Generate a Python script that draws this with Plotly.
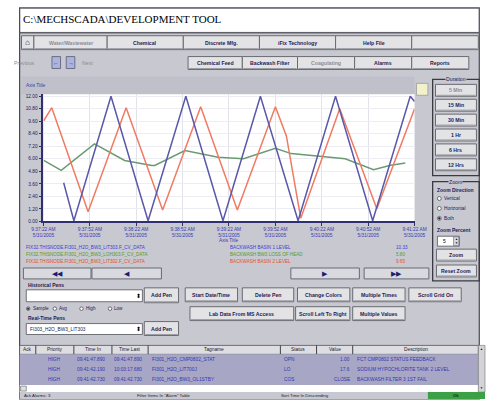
import plotly.graph_objects as go

W, H = 497, 402

# ---------------- data ----------------
x_tick_vals = [0, 30, 60, 90, 120, 150, 180, 210, 240]
x_tick_time = ["9:37:22 AM", "9:37:52 AM", "9:38:22 AM", "9:38:52 AM", "9:39:22 AM",
               "9:39:52 AM", "9:40:22 AM", "9:40:52 AM", "9:41:22 AM"]
x_tick_date = "5/31/2005"
y_tick_vals = [0, 1.2, 2.4, 3.6, 4.8, 6.0, 7.2, 8.4, 9.6, 10.8, 12.0]
y_tick_text = ["0.00", "1.20", "2.40", "3.60", "4.80", "6.00", "7.20", "8.40", "9.60", "10.80", "12.00"]

blue_x = [13.1, 19.7, 43.7, 67.7, 92.1, 116.1, 140.3, 164.7, 188.9, 212.9, 237.2, 240.0]
blue_y = [3.70, 0.05, 12.0, 0.05, 12.0, 0.05, 12.0, 0.05, 12.0, 0.05, 12.0, 11.5]
red_x = [0.2, 5.4, 28.9, 53.5, 77.1, 101.7, 125.4, 150.0, 157.1, 166.4, 191.6, 215.6, 240.0]
red_y = [9.65, 10.9, 0.92, 10.9, 1.08, 11.0, 1.08, 11.0, 8.2, 0.30, 10.8, 1.2, 10.8]
green_x = [0.2, 11.5, 33.0, 52.5, 70.0, 72.0, 91.5, 113.0, 129.4, 150.0, 160.2, 195.1, 213.5, 223.8, 234.0]
green_y = [5.84, 4.89, 7.43, 5.84, 5.36, 5.36, 6.79, 6.16, 6.0, 7.0, 6.5, 6.0, 4.95, 5.36, 5.6]

pen_tags = ["FIX32.THISNODE.FI301_H2O_BW3_LIT303.F_CV_DATA",
            "FIX32.THISNODE.FI301_H2O_BW3_LOH303.F_CV_DATA",
            "FIX32.THISNODE.FI301_H2O_BW3_LIT302.F_CV_DATA"]
pen_descs = ["BACKWASH BASIN 1 LEVEL", "BACKWASH BW3 LOSS OF HEAD", "BACKWASH BASIN 2 LEVEL"]
pen_values = ["10.33", "5.80", "9.65"]

tabs_row1 = ["Water/Wastewater", "Chemical", "Discrete Mfg.", "iFix Technology", "Help File", ""]
tabs_row2 = ["Chemical Feed", "Backwash Filter", "Coagulating", "Alarms", "Reports"]
duration_labels = ["5 Min", "15 Min", "30 Min", "1 Hr", "6 Hrs", "12 Hrs"]
zoom_dirs = ["Vertical", "Horizontal", "Both"]
hist_modes = ["Sample", "Avg", "High", "Low"]
btn_row1 = ["Start Date/Time", "Delete Pen", "Change Colors", "Multiple Times", "Scroll Grid On"]
btn_row2 = ["Lab Data From MS Access", "Scroll Left To Right", "Multiple Values"]

alarm_cols = ["Ack", "Priority", "Time In", "Time Last", "Tagname", "Status", "Value", "Description"]
alarm_priority = ["HIGH", "HIGH", "HIGH"]
alarm_time_in = ["09:41:47.890", "09:41:42.190", "09:41:42.730"]
alarm_time_last = ["09:41:47.890", "10:03:17.680", "09:41:42.730"]
alarm_tag = ["FI301_H2O_CMP0802_STAT", "FI301_H2O_LIT700J", "FI301_H2O_BW3_OL1STBY"]
alarm_status = ["OPN", "LO", "COS"]
alarm_value = ["1.00", "17.6", "CLOSE"]
alarm_desc = ["FCT CMP0802 STATUS FEEDBACK", "SODIUM HYPOCHLORITE TANK 2 LEVEL", "BACKWASH FILTER 3 1ST FAIL"]

# ---------------- helpers ----------------
UI = "Liberation Sans, Arial, sans-serif"
NAVY = "#1c1c55"
GREY_TXT = "#8c8c94"
BG = "#c7c8d0"
shapes, annos = [], []


def X(px):
    return px / W


def Y(py):
    return 1 - py / H


def rect(x0, y0, x1, y1, fill, line=None, lw=1, layer="below"):
    shapes.append(dict(type="rect", xref="paper", yref="paper",
                       x0=X(x0), x1=X(x1), y0=Y(y1), y1=Y(y0),
                       fillcolor=fill,
                       line=dict(color=line if line else "rgba(0,0,0,0)", width=lw if line else 0),
                       layer=layer))


def seg(x0, y0, x1, y1, color, lw=1, layer="below"):
    shapes.append(dict(type="line", xref="paper", yref="paper",
                       x0=X(x0), x1=X(x1), y0=Y(y0), y1=Y(y1),
                       line=dict(color=color, width=lw), layer=layer))


def circ(cx, cy, r, fill, line="#505058"):
    shapes.append(dict(type="circle", xref="paper", yref="paper",
                       x0=X(cx - r), x1=X(cx + r), y0=Y(cy + r), y1=Y(cy - r),
                       fillcolor=fill, line=dict(color=line, width=0.8), layer="below"))


def text(x, y, s, size=5.2, color=NAVY, anchor="left", bold=False, family=UI, bg=None):
    d = dict(x=X(x), y=Y(y), xref="paper", yref="paper",
             text=f"<b>{s}</b>" if (bold and s) else s,
             showarrow=False, xanchor=anchor, yanchor="middle", borderpad=0,
             font=dict(size=size, color=color, family=family))
    if bg:
        d["bgcolor"] = bg
    annos.append(d)


def button(x0, y0, x1, y1, label, color=NAVY, size=5.2, fill="#e3e3e6"):
    rect(x0, y0, x1, y1, fill, "#6a6a72", 1)
    seg(x0 + 1, y1 - 1, x1 - 1, y1 - 1, "#9c9ca4", 1)
    text((x0 + x1) / 2, (y0 + y1) / 2, label, size, color, "center", True)


# ---------------- window frame ----------------
rect(8, 8, 491, 402, BG, "#4a4a50", 1.2)
rect(9, 9, 490, 32, "white")
seg(8, 33, 491, 33, "#606068", 1.5)
text(11, 19, "C:\\MECHSCADA\\DEVELOPMENT TOOL", 11, "black", family="Liberation Serif, Times New Roman, serif")

# tab row 1
button(10, 36, 23, 50, "⌂", NAVY, 8)
tab_x = [23, 100, 180, 260, 340, 420, 490]
for i, lab in enumerate(tabs_row1):
    button(tab_x[i], 36, tab_x[i + 1], 50, lab, GREY_TXT if i == 0 else NAVY)

# tab row 2
text(1, 63, "Previous", 5.2, GREY_TXT)
rect(42, 57, 51, 69, "#a9b5df", "#5a5a70", 0.8)
rect(57, 57, 66, 69, "#a9b5df", "#5a5a70", 0.8)
text(46.5, 63, "←", 6, "#303080", "center", True)
text(61.5, 63, "→", 6, "#303080", "center", True)
text(72, 63, "Next", 5.2, GREY_TXT)
row2_x = [185, 242, 300, 360, 420, 480]
for i, lab in enumerate(tabs_row2):
    button(row2_x[i], 57, row2_x[i + 1], 70, lab, GREY_TXT if i == 2 else NAVY)

# chart panel
rect(10, 77, 423, 95, "#bfc0ca")
rect(33, 95, 423, 223, "white")
text(14, 86, "Axis Title", 4.8, "#3a3ab0")
text(228, 242, "Axis Title", 4.8, "#3a3ab0", "center")
rect(425, 84, 437, 96, "#f3f1c9", "#9a9aa0", 0.8)

# legend lines under chart
pen_cols = ["#4040d0", "#5c9a2a", "#e8502a"]
for i in range(3):
    yy = 249 + i * 7
    text(14, yy, pen_tags[i], 4.6, pen_cols[i])
    text(228, yy, pen_descs[i], 4.6, pen_cols[i])
    text(402, yy, pen_values[i], 4.6, pen_cols[i])

# scroll buttons
for (x0, x1, g) in [(12, 83, "◀◀"), (84, 157, "◀"), (293, 365, "▶"), (370, 438, "▶▶")]:
    rect(x0, 270, x1, 281, "#d9dae0", "#6a6a72", 1)
    text((x0 + x1) / 2, 275.5, g, 7, "#1c1c70", "center")

# Duration group
rect(442, 80, 491, 177, "rgba(0,0,0,0)", "#3a3a42", 1.3)
text(466.5, 80, "Duration", 5.2, NAVY, "center", bg=BG)
for i, lab in enumerate(duration_labels):
    y0 = 85 + i * 15
    button(445, y0, 488, y0 + 12, lab, GREY_TXT if i == 0 else NAVY)

# Zoom group
rect(442, 183, 491, 283, "rgba(0,0,0,0)", "#3a3a42", 1.3)
text(466.5, 183, "Zoom", 5.2, NAVY, "center", bg=BG)
text(446, 191, "Zoom Direction", 5, NAVY, bold=True)
for i, lab in enumerate(zoom_dirs):
    yy = 200 + i * 10
    circ(449, yy, 2, "white")
    if i == 2:
        circ(449, yy, 0.9, "#202030", "#202030")
    text(453, yy, lab, 4.8, NAVY)
text(446, 232, "Zoom Percent", 5, NAVY, bold=True)
rect(447, 238, 470, 248, "white", "#505058", 0.8)
text(452, 243, "5", 5, "black")
rect(464, 238.5, 469.5, 247.5, "#d8d8dc", "#606068", 0.6)
text(466.7, 240.8, "▲", 3, "black", "center")
text(466.7, 245.3, "▼", 3, "black", "center")
button(446, 251, 488, 263, "Zoom")
button(446, 267, 488, 279, "Reset Zoom")

# Historical / real-time pens
text(16, 287, "Historical Pens", 5, NAVY, bold=True)
rect(15, 292, 137, 304, "white", "#505058", 0.8)
text(132.5, 298, "⬍", 6, "black", "center")
button(139, 290, 175, 305, "Add Pen")
hist_x = [17, 45, 73, 103]
for i, lab in enumerate(hist_modes):
    circ(hist_x[i], 311, 1.8, "white")
    if i == 0:
        circ(hist_x[i], 311, 0.8, "#202030", "#202030")
    text(hist_x[i] + 3.5, 311, lab, 4.6, NAVY)
text(16, 320, "Real-Time Pens", 5, NAVY, bold=True)
rect(15, 326, 137, 337, "white", "#505058", 0.8)
text(18, 331.5, "FI303_H2O_BW3_LIT303", 4.8, "#202050")
text(132.5, 331.5, "⬍", 6, "black", "center")
button(139, 324, 175, 338, "Add Pen")

b1_x = [(182, 237), (242, 296), (300, 355), (358, 413), (417, 472)]
for (x0, x1), lab in zip(b1_x, btn_row1):
    button(x0, 290, x1, 304, lab)
b2_x = [(187, 296), (298, 355), (358, 413)]
for (x0, x1), lab in zip(b2_x, btn_row2):
    button(x0, 309, x1, 323, lab)

# Alarm table
rect(8, 348, 490, 357, "#dedee2", "#55555c", 0.8)
col_edges = [8, 25, 65, 105, 143, 282, 320, 358, 490]
for xe in col_edges[1:-1]:
    seg(xe, 348, xe, 357, "#404048", 1)
for i, lab in enumerate(alarm_cols):
    text((col_edges[i] + col_edges[i + 1]) / 2, 352.5, lab, 4.8, "#202030", "center")
rect(8, 357, 490, 388, "#a7a7c5")
rect(8, 388, 490, 395, "white")
rect(9, 389, 15, 394, "#e0e0e0", "#606060", 0.6)
rect(490, 348, 497, 395, "#d4d4d8", "#707070", 0.6)
text(493.5, 352, "▲", 3, "black", "center")
text(493.5, 391, "▼", 3, "black", "center")
RT = "#3636b0"
for r in range(3):
    yy = 362 + r * 10
    text(45, yy, alarm_priority[r], 4.8, RT, "center")
    text(67, yy, alarm_time_in[r], 4.8, RT)
    text(106, yy, alarm_time_last[r], 4.8, RT)
    text(146, yy, alarm_tag[r], 4.8, RT)
    text(285, yy, alarm_status[r], 4.8, RT)
    text(356, yy, alarm_value[r], 4.8, RT, "right")
    text(361, yy, alarm_desc[r], 4.8, RT)
rect(8, 395, 497, 402, BG)
text(12, 398.5, "Ack Alarms: 3", 4.3, "#202030")
text(130, 398.5, "Filter Items In \"Alarm\" Table", 4.3, "#202030")
text(282, 398.5, "Sort Time In Descending", 4.3, "#202030")
rect(437, 395, 497, 402, "#3ca046")
text(467, 398.5, "Ok", 4.3, "#103010", "center", True)

# ---------------- figure ----------------
fig = go.Figure()
fig.add_trace(go.Scatter(x=green_x, y=green_y, mode="lines", line=dict(color="#6b9a72", width=1.5),
                         showlegend=False, hoverinfo="skip"))
fig.add_trace(go.Scatter(x=red_x, y=red_y, mode="lines", line=dict(color="#f07a62", width=1.5),
                         showlegend=False, hoverinfo="skip"))
fig.add_trace(go.Scatter(x=blue_x, y=blue_y, mode="lines", line=dict(color="#5a58a8", width=1.5),
                         showlegend=False, hoverinfo="skip"))

x_tick_text = [f"{t}<br>{x_tick_date}" for t in x_tick_time]

fig.update_layout(
    width=W, height=H,
    margin=dict(l=0, r=0, t=0, b=0),
    paper_bgcolor="white",
    plot_bgcolor="rgba(0,0,0,0)",
    shapes=shapes,
    annotations=annos,
    xaxis=dict(domain=[X(33), X(423)], range=[0, 240], tickvals=x_tick_vals, ticktext=x_tick_text,
               ticks="outside", ticklen=3, tickcolor="#303070", showline=True, linecolor="#303070",
               linewidth=1.5, showgrid=True, gridcolor="#e2e2ea", gridwidth=1, zeroline=False,
               ticklabelstandoff=-1,
               tickfont=dict(size=4.8, color="#3a3ab0", family=UI), fixedrange=True),
    yaxis=dict(domain=[Y(223), Y(95)], range=[0, 12.19], tickvals=y_tick_vals, ticktext=y_tick_text,
               ticks="outside", ticklen=3, tickcolor="#303070", showline=True, linecolor="#303070",
               linewidth=1.5, showgrid=True, gridcolor="#ececf2", gridwidth=1, zeroline=False,
               tickfont=dict(size=4.8, color="#202060", family=UI), fixedrange=True),
)

fig.write_html("out.html", config={"displayModeBar": False},
               post_script="document.body.style.margin='0';document.body.style.overflow='hidden';")
